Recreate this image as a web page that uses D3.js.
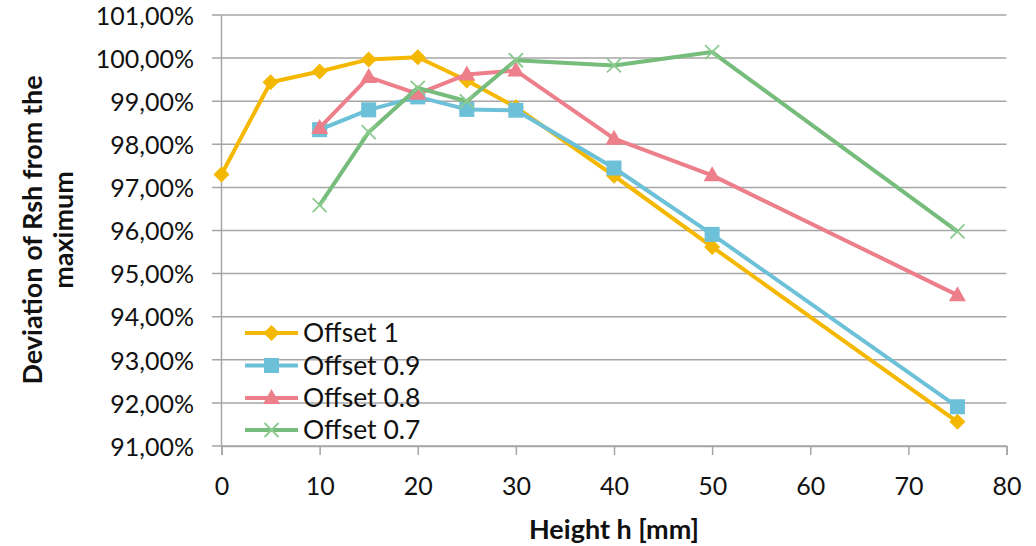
<!DOCTYPE html>
<html><head><meta charset="utf-8">
<script src="https://cdn.jsdelivr.net/npm/d3@7"></script>
<style>body{margin:0;background:#fff}svg{display:block}</style>
</head><body><svg id="c" width="1036" height="546"></svg>
<script>
const xValues1 = [0, 5, 10, 15, 20, 25, 30, 40, 50, 75];
const xValuesOther = [10, 15, 20, 25, 30, 40, 50, 75];
const offset1 = [97.30, 99.44, 99.69, 99.97, 100.02, 99.48, 98.86, 97.27, 95.62, 91.56];
const offset09 = [98.34, 98.80, 99.10, 98.81, 98.79, 97.45, 95.91, 91.91];
const offset08 = [98.38, 99.56, 99.17, 99.62, 99.71, 98.13, 97.28, 94.50];
const offset07 = [96.59, 98.28, 99.31, 99.00, 99.95, 99.83, 100.14, 95.98];
const seriesNames = ["Offset 1", "Offset 0.9", "Offset 0.8", "Offset 0.7"];
const xTicks = [0, 10, 20, 30, 40, 50, 60, 70, 80];
const yTicks = [91, 92, 93, 94, 95, 96, 97, 98, 99, 100, 101];

const series = [
  {name: seriesNames[0], xs: xValues1, ys: offset1, color: "#F5B800", marker: "diamond"},
  {name: seriesNames[1], xs: xValuesOther, ys: offset09, color: "#6CC0D8", marker: "square"},
  {name: seriesNames[2], xs: xValuesOther, ys: offset08, color: "#EC7F8A", marker: "triangle"},
  {name: seriesNames[3], xs: xValuesOther, ys: offset07, color: "#76BC7B", marker: "x"}
];

const font = "Lato, 'Open Sans', sans-serif";
const svg = d3.select("#c");
const x = d3.scaleLinear().domain([0, 80]).range([221.5, 1006.5]);
const y = d3.scaleLinear().domain([91, 101]).range([446, 15]);
const grid = "#A6A6A6";

// horizontal gridlines
svg.append("g").selectAll("line").data(yTicks).join("line")
  .attr("x1", 212).attr("x2", x(80)).attr("y1", d => y(d)).attr("y2", d => y(d))
  .attr("stroke", grid).attr("stroke-width", 1.5);

// y axis line
svg.append("line").attr("x1", x(0)).attr("x2", x(0)).attr("y1", y(101)).attr("y2", y(91))
  .attr("stroke", grid).attr("stroke-width", 1.5);
// x axis
const xAxis = d3.axisBottom(x).tickValues(xTicks).tickSize(9).tickFormat(d3.format("d"));
const gx = svg.append("g").attr("transform", `translate(0,${y(91)})`).call(xAxis);
gx.select(".domain").attr("stroke", grid).attr("stroke-width", 1.5);
gx.selectAll(".tick line").attr("stroke", grid).attr("stroke-width", 1.5);
gx.selectAll(".tick text").attr("font-family", font).attr("font-size", 25).attr("fill", "#111")
  .attr("y", 40).attr("dy", "0.35em");

// y tick labels
svg.append("g").selectAll("text").data(yTicks).join("text")
  .attr("x", 194).attr("y", d => y(d) + 1).attr("dy", "0.35em").attr("text-anchor", "end")
  .attr("font-family", font).attr("font-size", 25).attr("fill", "#111")
  .text(d => d3.format(".2f")(d).replace(".", ",") + "%");

// axis titles
svg.append("text").attr("x", x(40)).attr("y", 530).attr("dy", "0.35em").attr("text-anchor", "middle")
  .attr("font-family", font).attr("font-size", 27).attr("font-weight", "bold").attr("fill", "#111")
  .text("Height h [mm]");
const yt = svg.append("text").attr("transform", "translate(48,230) rotate(-90)")
  .attr("text-anchor", "middle").attr("font-family", font).attr("font-size", 27)
  .attr("font-weight", "bold").attr("fill", "#111");
yt.append("tspan").attr("x", 0).attr("y", -15).attr("dy", "0.35em").text("Deviation of Rsh from the");
yt.append("tspan").attr("x", 0).attr("y", 16).attr("dy", "0.35em").text("maximum");

function drawMarker(g, type, color, cx, cy) {
  if (type === "diamond") {
    g.append("path").attr("d", `M${cx},${cy-8}L${cx+8},${cy}L${cx},${cy+8}L${cx-8},${cy}Z`).attr("fill", color);
  } else if (type === "square") {
    g.append("rect").attr("x", cx-7.5).attr("y", cy-7.5).attr("width", 15).attr("height", 15).attr("fill", color);
  } else if (type === "triangle") {
    g.append("path").attr("d", `M${cx},${cy-9}L${cx+8.5},${cy+6}L${cx-8.5},${cy+6}Z`).attr("fill", color);
  } else {
    g.append("path").attr("d", `M${cx-7},${cy-7}L${cx+7},${cy+7}M${cx+7},${cy-7}L${cx-7},${cy+7}`)
      .attr("stroke", "#8CCB8F").attr("stroke-width", 1.8).attr("fill", "none");
  }
}

// legend
const legY = [333, 365.5, 398, 430];
series.forEach((s, i) => {
  const g = svg.append("g");
  g.append("line").attr("x1", 245).attr("x2", 298).attr("y1", legY[i]).attr("y2", legY[i])
    .attr("stroke", s.color).attr("stroke-width", 4);
  drawMarker(g, s.marker, s.color, 271.5, legY[i]);
  g.append("text").attr("x", 303).attr("y", legY[i]).attr("dy", "0.35em")
    .attr("font-family", font).attr("font-size", 26.5).attr("fill", "#111").text(s.name);
});

// series
const line = d3.line().x(d => x(d[0])).y(d => y(d[1]));
series.forEach(s => {
  const pts = s.xs.map((v, i) => [v, s.ys[i]]);
  const g = svg.append("g");
  g.append("path").datum(pts).attr("d", line).attr("fill", "none")
    .attr("stroke", s.color).attr("stroke-width", 4).attr("stroke-linejoin", "round");
  pts.forEach(p => drawMarker(g, s.marker, s.color, x(p[0]), y(p[1])));
});
</script></body></html>
